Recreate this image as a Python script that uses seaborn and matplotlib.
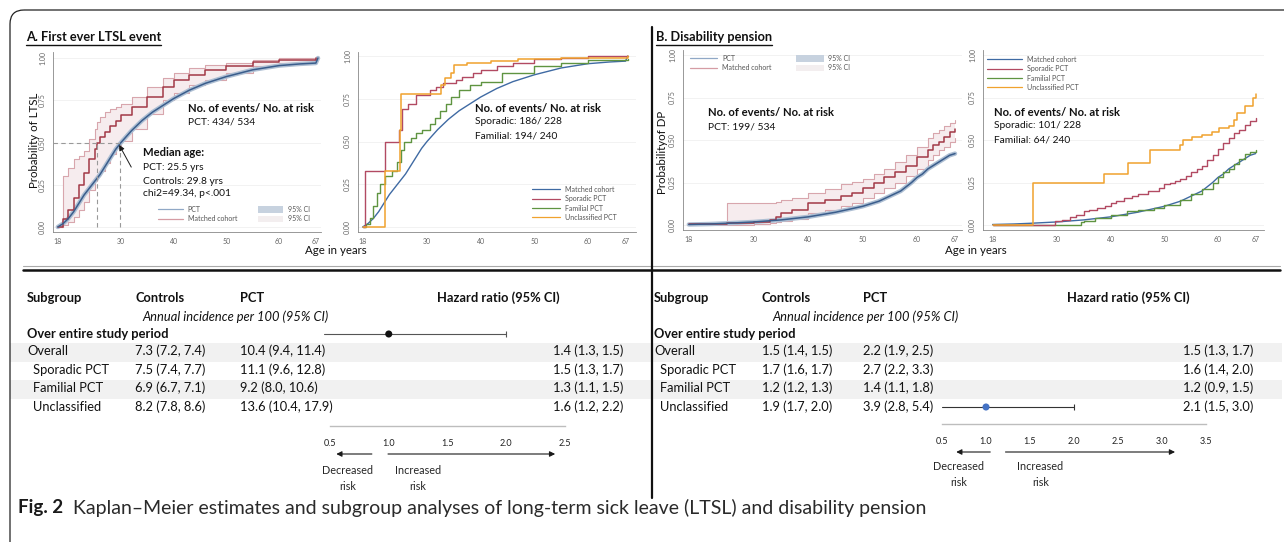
import matplotlib
matplotlib.use("Agg")
import matplotlib.pyplot as plt
from matplotlib.lines import Line2D
from matplotlib.patches import Patch, FancyBboxPatch, Rectangle
import seaborn as sns

# ---- A. first ever LTSL event: Kaplan-Meier curves ----
ltsl_ctrl_age = [18, 19, 20, 21, 22, 23, 24, 25, 26, 27, 28, 29, 30, 32, 34, 36, 38, 40, 43, 46, 50, 55, 60, 64, 67, 67.4]
ltsl_ctrl = [0, .02, .05, .09, .14, .19, .23, .27, .31, .36, .41, .46, .50, .57, .63, .68, .72, .76, .81, .85, .89, .93, .955, .965, .97, 1.0]

ltsl_pct_age = [18, 19, 20, 21, 22, 23, 24, 25, 25.5, 26, 27, 28, 29, 30, 32, 35, 38, 40, 43, 46, 50, 55, 60, 67]
ltsl_pct = [0, .05, .10, .17, .25, .32, .40, .46, .50, .53, .56, .60, .63, .66, .71, .77, .83, .87, .90, .93, .95, .975, .99, 1.0]
ltsl_pct_hi = [0, .30, .35, .40, .42, .45, .52, .58, .62, .65, .68, .70, .71, .73, .77, .83, .88, .91, .94, .96, .97, .99, 1.0, 1.0]
ltsl_pct_lo = [0, .01, .03, .06, .10, .15, .22, .27, .30, .33, .38, .43, .47, .51, .58, .67, .75, .79, .84, .87, .91, .95, .97, .985]
ltsl_medians = [25.5, 29.8]

spor_ltsl_age = [18, 18.5, 22.2, 24.7, 25.3, 26.5, 28, 30.5, 31.7, 33, 35.4, 36.6, 38.5, 40, 43, 46, 50, 55, 60, 67.5]
spor_ltsl = [0, .33, .50, .57, .69, .72, .77, .80, .82, .84, .86, .88, .90, .92, .94, .96, .98, .99, 1.0, 1.0]
fam_ltsl_age = [18, 18.6, 19.3, 20, 20.6, 21.2, 22.2, 23.5, 24.5, 25.2, 25.8, 27, 28, 29, 30.5, 31.5, 32.5, 33.5, 34.5,
                36, 38, 40, 44, 50, 55, 60, 67.5]
fam_ltsl = [0, .02, .05, .12, .20, .25, .30, .33, .38, .45, .50, .52, .55, .57, .60, .64, .68, .72, .76,
            .80, .83, .85, .90, .94, .96, .975, .985]
uncl_ltsl_age = [18, 22.2, 25, 25.2, 32.6, 33.3, 34.5, 35, 37.5, 42, 47, 55, 67.5]
uncl_ltsl = [0, .33, .57, .78, .83, .87, .90, .95, .96, .97, .98, .99, 1.0]

# ---- B. disability pension: Kaplan-Meier curves ----
dp_ctrl_age = [18, 22, 25, 30, 35, 40, 45, 50, 53, 55, 57, 59, 60, 61, 62, 63, 64, 65, 66, 67]
dp_ctrl = [.003, .006, .01, .018, .03, .048, .075, .11, .14, .17, .20, .25, .28, .30, .33, .35, .37, .39, .41, .42]

dp_pct_age = [18, 25, 30, 33, 34, 35, 37, 40, 43, 46, 48, 50, 52, 54, 56, 58, 60, 62, 63, 64, 65, 66, 67]
dp_pct = [.003, .012, .015, .03, .05, .07, .09, .13, .15, .17, .19, .22, .25, .28, .31, .35, .40, .44, .47, .49, .52, .55, .565]
dp_pct_hi = [.005, .13, .128, .13, .135, .145, .16, .19, .21, .24, .255, .27, .30, .33, .37, .41, .46, .51, .54, .56, .58, .60, .62]
dp_pct_lo = [.001, .002, .005, .01, .015, .025, .035, .07, .09, .11, .13, .16, .19, .22, .25, .29, .33, .38, .41, .44, .46, .49, .51]

spor_dp_age = [18, 29.7, 31, 32.5, 33.5, 35, 36, 37.5, 39, 40, 41, 42.5, 44, 45, 47, 49, 50, 51, 52, 53, 54, 55,
               56, 57, 58, 59, 60, 61, 62, 63, 64, 65, 66, 67]
spor_dp = [0, .025, .03, .05, .06, .08, .09, .10, .11, .13, .14, .16, .17, .18, .20, .22, .24, .25, .26, .27, .29, .31,
           .33, .35, .38, .41, .45, .48, .51, .54, .56, .59, .61, .63]
fam_dp_age = [18, 34.5, 35, 37, 40, 43, 45, 48, 50, 53, 55, 57, 59, 60, 61, 62, 63, 64, 65, 66, 67]
fam_dp = [0, .02, .025, .04, .06, .08, .09, .10, .12, .15, .18, .21, .25, .28, .31, .33, .36, .39, .42, .43, .44]
uncl_dp_age = [18, 25.5, 38.8, 43.3, 47.3, 53, 53.5, 55.2, 57, 58.9, 60.1, 62, 63, 63.5, 65, 66.6, 67]
uncl_dp = [0, .25, .30, .365, .44, .47, .50, .52, .53, .55, .57, .58, .62, .66, .70, .75, .77]

# ---- subgroup tables ----
subgroups = ["Overall", "Sporadic PCT", "Familial PCT", "Unclassified"]
ltsl_controls = ["7.3 (7.2, 7.4)", "7.5 (7.4, 7.7)", "6.9 (6.7, 7.1)", "8.2 (7.8, 8.6)"]
ltsl_pct_inc = ["10.4 (9.4, 11.4)", "11.1 (9.6, 12.8)", "9.2 (8.0, 10.6)", "13.6 (10.4, 17.9)"]
ltsl_hr = ["1.4 (1.3, 1.5)", "1.5 (1.3, 1.7)", "1.3 (1.1, 1.5)", "1.6 (1.2, 2.2)"]
dp_controls = ["1.5 (1.4, 1.5)", "1.7 (1.6, 1.7)", "1.2 (1.2, 1.3)", "1.9 (1.7, 2.0)"]
dp_pct_inc = ["2.2 (1.9, 2.5)", "2.7 (2.2, 3.3)", "1.4 (1.1, 1.8)", "3.9 (2.8, 5.4)"]
dp_hr = ["1.5 (1.3, 1.7)", "1.6 (1.4, 2.0)", "1.2 (0.9, 1.5)", "2.1 (1.5, 3.0)"]

# forest marks as drawn in the figure: point, low, high
ltsl_mark = [1.0, 0.45, 2.0]
dp_mark = [1.0, 0.5, 2.0]
ltsl_ticks = [0.5, 1.0, 1.5, 2.0, 2.5]
dp_ticks = [0.5, 1.0, 1.5, 2.0, 2.5, 3.0, 3.5]

age_ticks = [18, 30, 40, 50, 60, 67]
prob_ticks = [0, .25, .5, .75, 1.0]

BLUE_DK = "#3a5d8c"
BLUE_BAND = "#aebfd3"
RED_DK = "#a23846"
PINK_EDGE = "#d8a6ad"
PINK_FILL = "#f6ecee"
C_MATCH = "#3f6aa3"
C_SPOR = "#b24a62"
C_FAM = "#5f9441"
C_UNCL = "#f0a22e"

W, H = 1284, 542

sns.set_theme(style="white")
plt.rcParams["font.family"] = ["Lato", "DejaVu Sans"]

fig = plt.figure(figsize=(W / 100, H / 100), dpi=100)

# pixel-unit overlays: one below the plots (frame, bands), one above (texts)
bg = fig.add_axes([0, 0, 1, 1], zorder=0)
ov = fig.add_axes([0, 0, 1, 1], zorder=5)
for a in (bg, ov):
    a.set_xlim(0, W)
    a.set_ylim(H, 0)
    a.axis("off")
    a.patch.set_alpha(0)


def px_axes(x0, y0, x1, y1):
    ax = fig.add_axes([x0 / W, 1 - y1 / H, (x1 - x0) / W, (y1 - y0) / H], zorder=2)
    ax.set_facecolor("none")
    return ax


def lin(p1, v1, p2, v2, p):
    return v1 + (p - p1) * (v2 - v1) / (p2 - p1)


def km_axes(box, xref, yref):
    # box in pixels, xref=(px of age 30, px of age 60), yref=(px of 0, px of 1)
    x0, y0, x1, y1 = box
    ax = px_axes(x0, y0, x1, y1)
    ax.set_xlim(lin(xref[0], 30, xref[1], 60, x0), lin(xref[0], 30, xref[1], 60, x1))
    ax.set_ylim(lin(yref[0], 0, yref[1], 1, y1), lin(yref[0], 0, yref[1], 1, y0))
    ax.set_xticks(age_ticks)
    ax.set_yticks(prob_ticks)
    ax.set_yticklabels(["0.00", "0.25", "0.50", "0.75", "1.00"], rotation=90, va="center")
    ax.tick_params(labelsize=5, colors="#666", length=2, width=0.5, pad=2)
    ax.tick_params(axis="y", pad=3)
    for s in ["top", "right"]:
        ax.spines[s].set_visible(False)
    for s in ["left", "bottom"]:
        ax.spines[s].set_color("#888")
        ax.spines[s].set_linewidth(0.6)
    ax.grid(axis="y", color="#f0f0f0", lw=0.6)
    ax.grid(axis="x", visible=False)
    ax.set_axisbelow(True)
    return ax


def km_line(ax, x, y, color, lw, steps=True, z=3):
    sns.lineplot(x=x, y=y, ax=ax, color=color, lw=lw, estimator=None, sort=False,
                 drawstyle="steps-post" if steps else "default", zorder=z, legend=False)


def finish(ax):
    ax.set_xlabel("")
    ax.set_ylabel("")


def put_legend(ax, handles, labels, x, y, ncol, hl, colsp=3.0):
    leg = ax.legend(handles, labels, ncol=ncol, loc="upper left", bbox_to_anchor=(x / W, 1 - y / H),
                    bbox_transform=fig.transFigure, frameon=False, fontsize=5, handlelength=hl,
                    handleheight=1.1, handletextpad=0.7, columnspacing=colsp, labelspacing=0.35,
                    borderpad=0, borderaxespad=0)
    for t in leg.get_texts():
        t.set_color("#555")


def txt(x, y, s, size=7.5, bold=False, **kw):
    return ov.text(x, y, s, fontsize=size, fontweight="bold" if bold else "normal",
                   va="center", color=kw.pop("color", "#111"), **kw)


# ---------- panel A, left ----------
a1 = km_axes((53, 52, 321, 232), (121, 279), (227, 58))
a1.fill_between(ltsl_pct_age, ltsl_pct_lo, ltsl_pct_hi, step="post", color=PINK_FILL, lw=0, zorder=1)
km_line(a1, ltsl_pct_age, ltsl_pct_hi, PINK_EDGE, 0.8)
km_line(a1, ltsl_pct_age, ltsl_pct_lo, PINK_EDGE, 0.8)
km_line(a1, ltsl_ctrl_age, ltsl_ctrl, BLUE_BAND, 3.2, steps=False)
km_line(a1, ltsl_ctrl_age, ltsl_ctrl, BLUE_DK, 1.1, steps=False, z=4)
km_line(a1, ltsl_pct_age, ltsl_pct, RED_DK, 1.1)
for m in ltsl_medians:
    a1.plot([m, m], [0, 0.5], ls=(0, (4, 3)), color="#999", lw=0.8, zorder=5)
a1.plot([a1.get_xlim()[0], max(ltsl_medians)], [0.5, 0.5], ls=(0, (4, 3)), color="#999", lw=0.8, zorder=5)
a1.annotate("", xy=(29.4, 0.5), xytext=(32.2, 0.34),
            arrowprops=dict(arrowstyle="-|>", color="k", lw=0.7, mutation_scale=8), zorder=6)
put_legend(a1, [Line2D([], [], color="#90a8c6", lw=0.9), Line2D([], [], color="#d59ca4", lw=0.9),
                Patch(fc="#c7d2df", ec="none"), Patch(fc="#f3eeef", ec="none")],
           ["PCT", "Matched cohort", "95% CI", "95% CI"], 158, 206, 2, 3.6)
finish(a1)

# ---------- panel A, right ----------
a2 = km_axes((358, 52, 636, 232), (427, 588), (227, 56))
km_line(a2, ltsl_ctrl_age, ltsl_ctrl, C_MATCH, 1.0, steps=False)
km_line(a2, fam_ltsl_age, fam_ltsl, C_FAM, 1.0)
km_line(a2, spor_ltsl_age, spor_ltsl, C_SPOR, 1.0)
km_line(a2, uncl_ltsl_age, uncl_ltsl, C_UNCL, 1.1)
put_legend(a2, [Line2D([], [], color=c, lw=0.9) for c in (C_MATCH, C_SPOR, C_FAM, C_UNCL)],
           ["Matched cohort", "Sporadic PCT", "Familial PCT", "Unclassified PCT"], 532, 186, 1, 4.0)
finish(a2)

# ---------- panel B, left ----------
b1 = km_axes((683, 50, 962, 230), (754, 917), (225, 55))
b1.fill_between(dp_pct_age, dp_pct_lo, dp_pct_hi, step="post", color=PINK_FILL, lw=0, zorder=1)
km_line(b1, dp_pct_age, dp_pct_hi, PINK_EDGE, 0.8)
km_line(b1, dp_pct_age, dp_pct_lo, PINK_EDGE, 0.8)
km_line(b1, dp_ctrl_age, dp_ctrl, BLUE_BAND, 3.2, steps=False)
km_line(b1, dp_ctrl_age, dp_ctrl, BLUE_DK, 1.1, steps=False, z=4)
km_line(b1, dp_pct_age, dp_pct, RED_DK, 1.1)
put_legend(b1, [Line2D([], [], color="#90a8c6", lw=0.9), Line2D([], [], color="#d59ca4", lw=0.9),
                Patch(fc="#c7d2df", ec="none"), Patch(fc="#f3eeef", ec="none")],
           ["PCT", "Matched cohort", "95% CI", "95% CI"], 690, 55, 2, 3.9, colsp=3.6)
finish(b1)

# ---------- panel B, right ----------
b2 = km_axes((983, 50, 1264, 230), (1057, 1218), (225, 55))
km_line(b2, dp_ctrl_age, dp_ctrl, C_MATCH, 1.0, steps=False)
km_line(b2, fam_dp_age, fam_dp, C_FAM, 1.0)
km_line(b2, spor_dp_age, spor_dp, C_SPOR, 1.0)
km_line(b2, uncl_dp_age, uncl_dp, C_UNCL, 1.1)
put_legend(b2, [Line2D([], [], color=c, lw=0.9) for c in (C_MATCH, C_SPOR, C_FAM, C_UNCL)],
           ["Matched cohort", "Sporadic PCT", "Familial PCT", "Unclassified PCT"], 987, 56, 1, 5.0)
finish(b2)

# ---------- frame, dividers, titles ----------
bg.add_patch(FancyBboxPatch((10, 10), 1300, 560, boxstyle="round,pad=0,rounding_size=14",
                            fc="none", ec="#222", lw=0.9))
bg.plot([23, 1280], [266, 266], color="#aaaaaa", lw=0.8)
bg.plot([23, 1280], [270, 270], color="#111", lw=1.8)
bg.plot([652, 652], [27, 498], color="#111", lw=1.6)

titles = [txt(26, 37, "A. First ever LTSL event", 9.2, True), txt(656, 37, "B. Disability pension", 9.2, True)]

txt(35, 140, "Probability of LTSL", 8.3, rotation=90, ha="center")
txt(662, 152, "Probabilityof DP", 8.3, rotation=90, ha="center")
txt(336, 250, "Age in years", 8.3, ha="center")
txt(976, 250, "Age in years", 8.3, ha="center")

BOLD_FS, REG_FS = 8.1, 7.4
txt(188, 108, "No. of events/ No. at risk", BOLD_FS, True)
txt(188, 122, "PCT: 434/ 534", REG_FS)
txt(143, 153, "Median age:", BOLD_FS, True)
txt(143, 167, "PCT: %.1f yrs" % ltsl_medians[0], REG_FS)
txt(143, 181, "Controls: %.1f yrs" % ltsl_medians[1], REG_FS)
txt(143, 194, "chi2=49.34, p<.001", REG_FS)

txt(475, 108, "No. of events/ No. at risk", BOLD_FS, True)
txt(475, 122, "Sporadic: 186/ 228", REG_FS)
txt(475, 136, "Familial: 194/ 240", REG_FS)

txt(708, 113, "No. of events/ No. at risk", BOLD_FS, True)
txt(708, 127, "PCT: 199/ 534", REG_FS)

txt(994, 112, "No. of events/ No. at risk", BOLD_FS, True)
txt(994, 126, "Sporadic: 101/ 228", REG_FS)
txt(994, 140, "Familial: 64/ 240", REG_FS)

# ---------- subgroup tables ----------
row_y = [351, 370, 388, 407]


def draw_table(x0, xc, xp, xi, xhr, hr_right, band, controls, pct, hr):
    for i in (0, 2):
        bg.add_patch(Rectangle((band[0], row_y[i] - 8), band[1] - band[0], 19, fc="#f1f1f1", ec="none", zorder=0))
    fs = 9.3
    txt(x0, 298, "Subgroup", fs, True)
    txt(xc, 298, "Controls", fs, True)
    txt(xp, 298, "PCT", fs, True)
    txt(xhr, 298, "Hazard ratio (95% CI)", fs, True)
    txt(xi, 317, "Annual incidence per 100 (95% CI)", fs, fontstyle="italic")
    txt(x0, 334, "Over entire study period", fs, True)
    for i, name in enumerate(subgroups):
        txt(x0 if i == 0 else x0 + 6, row_y[i], name, fs)
        txt(xc, row_y[i], controls[i], fs)
        txt(xp, row_y[i], pct[i], fs)
        txt(hr_right, row_y[i], hr[i], fs, ha="right")


draw_table(27, 135, 240, 142, 437, 623, (10, 651), ltsl_controls, ltsl_pct_inc, ltsl_hr)
draw_table(654, 762, 863, 772, 1067, 1253, (653, 1282), dp_controls, dp_pct_inc, dp_hr)


def forest(box, ticks, mark, mark_y, dot_color, line_color, arrows, labels):
    x0, y0, x1, y1 = box
    ax = px_axes(x0, y0, x1, y1)
    ax.set_xlim(ticks[0], ticks[-1])
    ax.set_ylim(y1, y0)
    for s in ["top", "right", "left"]:
        ax.spines[s].set_visible(False)
    ax.spines["bottom"].set_color("#bdbdbd")
    ax.spines["bottom"].set_linewidth(1.0)
    ax.set_yticks([])
    ax.set_xticks(ticks)
    ax.set_xticklabels(["%.1f" % t for t in ticks])
    ax.tick_params(axis="x", length=0, labelsize=6.5, pad=9, colors="#222")
    ax.grid(False)
    ax.plot([mark[1], mark[2]], [mark_y, mark_y], color=line_color, lw=0.8, clip_on=False)
    ax.plot([mark[2]], [mark_y], marker="|", ms=5, color=line_color, mew=0.8, clip_on=False)
    sns.scatterplot(x=[mark[0]], y=[mark_y], ax=ax, color=dot_color, s=26, zorder=5, clip_on=False,
                    edgecolor="none", legend=False)
    (la0, la1), (ra0, ra1), ay = arrows
    for a, b in ((la0, la1), (ra0, ra1)):
        ax.annotate("", xy=(b, ay), xytext=(a, ay), annotation_clip=False,
                    arrowprops=dict(arrowstyle="-|>", color="k", lw=0.8, mutation_scale=8))
    (dx, ix), (ly1, ly2) = labels
    for xx, word in ((dx, "Decreased"), (ix, "Increased")):
        ax.text(xx, ly1, word, ha="center", va="center", fontsize=7.8, clip_on=False)
        ax.text(xx, ly2, "risk", ha="center", va="center", fontsize=7.8, clip_on=False)
    ax.set_xlabel("")
    return ax


forest((330, 326, 565, 426), ltsl_ticks, ltsl_mark, row_y[0] - 17, "#111", "#555",
       ((0.88, 0.53), (0.97, 2.44), 454), ((0.65, 1.25), (470, 487)))
forest((942, 326, 1206, 424), dp_ticks, dp_mark, row_y[3], "#4472c4", "#333",
       ((1.08, 0.63), (1.19, 3.18), 452), ((0.69, 1.62), (467, 483)))

# ---------- caption ----------
txt(18, 508, "Fig. 2", 13.5, True, color="#1a1a1a")
txt(73, 508, "Kaplan\u2013Meier estimates and subgroup analyses of long-term sick leave (LTSL) and disability pension",
    14, color="#2a2a2a")

# underline the panel titles
fig.canvas.draw()
inv = ov.transData.inverted()
for t in titles:
    bb = t.get_window_extent()
    (xa, _), (xb, _) = inv.transform([(bb.x0, bb.y0), (bb.x1, bb.y0)])
    ov.plot([xa, xb], [44.5, 44.5], color="#111", lw=1.0)

fig.savefig("out.png", dpi=100)
